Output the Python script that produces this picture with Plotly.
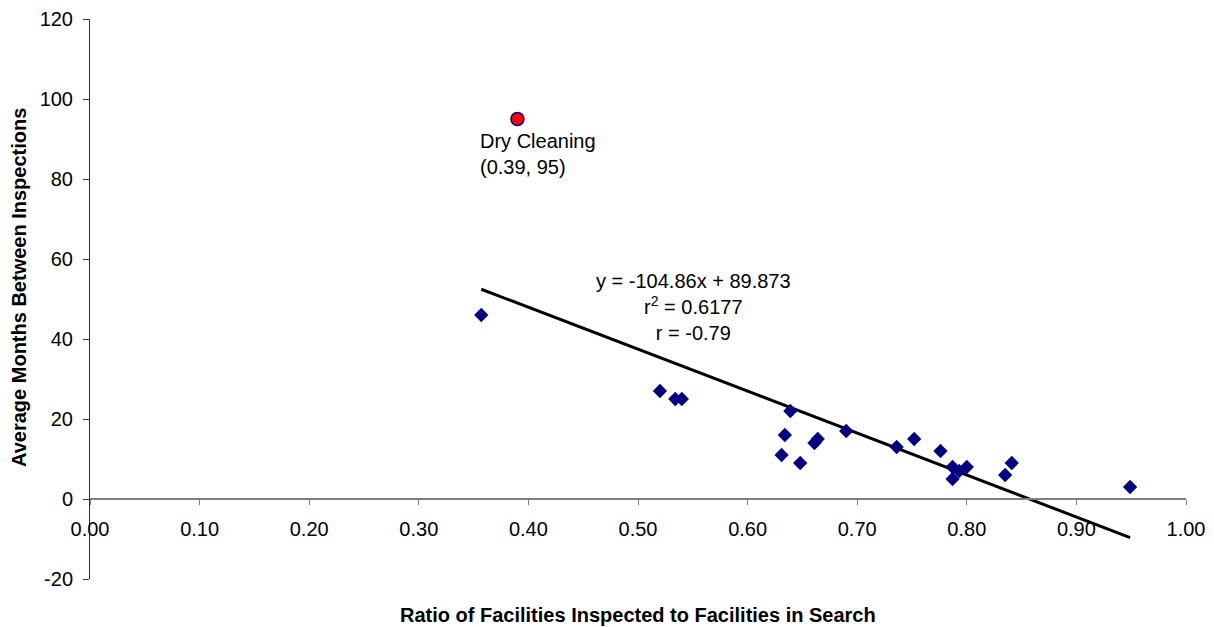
import plotly.graph_objects as go

# ---- data ----
ratio = [0.357, 0.520, 0.534, 0.540, 0.631, 0.634, 0.639, 0.648, 0.661, 0.664,
         0.690, 0.736, 0.752, 0.776, 0.787, 0.787, 0.793, 0.800, 0.835, 0.841, 0.949]
months = [46, 27, 25, 25, 11, 16, 22, 9, 14, 15,
          17, 13, 15, 12, 8, 5, 7, 8, 6, 9, 3]

outlier_x = [0.39]
outlier_y = [95]
outlier_label = "Dry Cleaning<br>(0.39, 95)"

slope = -104.86
intercept = 89.873
r_squared = 0.6177
r_value = -0.79

x_ticks = [0.0, 0.1, 0.2, 0.3, 0.4, 0.5, 0.6, 0.7, 0.8, 0.9, 1.0]
y_ticks = [-20, 0, 20, 40, 60, 80, 100, 120]

x_title = "Ratio of Facilities Inspected to Facilities in Search"
y_title = "Average Months Between Inspections"

FONT = "Liberation Sans, Arial, sans-serif"
TXT = 20

trend_x = [min(ratio), max(ratio)]
trend_y = [slope * v + intercept for v in trend_x]

fig = go.Figure()
fig.add_trace(go.Scatter(x=trend_x, y=trend_y, mode="lines",
                         line=dict(color="black", width=3), hoverinfo="skip",
                         showlegend=False))
fig.add_trace(go.Scatter(x=ratio, y=months, mode="markers",
                         marker=dict(symbol="diamond", size=11, color="#000080",
                                     line=dict(width=0)),
                         showlegend=False))
fig.add_trace(go.Scatter(x=outlier_x, y=outlier_y, mode="markers",
                         marker=dict(symbol="circle", size=13, color="#ff0000",
                                     line=dict(color="#000080", width=1.5)),
                         showlegend=False))

annotations = [
    dict(x=outlier_x[0], y=outlier_y[0], text=outlier_label, showarrow=False,
         xanchor="left", yanchor="top", align="left", xshift=-39, yshift=-9,
         font=dict(family=FONT, size=TXT, color="black")),
    dict(x=0.551, y=48,
         text=f"y = {slope}x + {intercept}<br>r<sup>2</sup> = {r_squared}<br>r = {r_value}",
         showarrow=False, xanchor="center", yanchor="middle", align="center",
         font=dict(family=FONT, size=TXT, color="black")),
    dict(xref="paper", yref="paper", x=0.5, y=0, xshift=0, yshift=-36,
         text=f"<b>{x_title}</b>", showarrow=False, xanchor="center", yanchor="middle",
         font=dict(family=FONT, size=20, color="black")),
    dict(xref="paper", yref="paper", x=0, y=0.5, xshift=-71, yshift=11,
         text=f"<b>{y_title}</b>", showarrow=False, textangle=-90,
         xanchor="center", yanchor="middle",
         font=dict(family=FONT, size=20, color="black")),
]

# the page body adds an 8px offset, so the figure is 8px smaller on each side
fig.update_layout(
    width=1206, height=619,
    margin=dict(l=82, r=28, t=11, b=48, autoexpand=False),
    paper_bgcolor="white", plot_bgcolor="white",
    font=dict(family=FONT, size=TXT, color="black"),
    showlegend=False,
    annotations=annotations,
    xaxis=dict(range=[0, 1], tickvals=x_ticks,
               ticktext=[f"{v:.2f}" for v in x_ticks],
               anchor="free", position=20 / 140, automargin=False,
               showline=True, linecolor="#808080", linewidth=2,
               ticks="outside", ticklen=5, tickcolor="#808080", tickwidth=1,
               ticklabelstandoff=7,
               showgrid=False, zeroline=False,
               tickfont=dict(family=FONT, size=TXT, color="black")),
    yaxis=dict(range=[-20, 120], tickvals=y_ticks,
               ticktext=[str(v) for v in y_ticks], automargin=False,
               showline=True, linecolor="#333333", linewidth=1,
               ticks="outside", ticklen=6, tickcolor="#333333", tickwidth=1,
               ticklabelstandoff=6,
               showgrid=False, zeroline=False,
               tickfont=dict(family=FONT, size=TXT, color="black")),
)

fig.write_html("out.html")
